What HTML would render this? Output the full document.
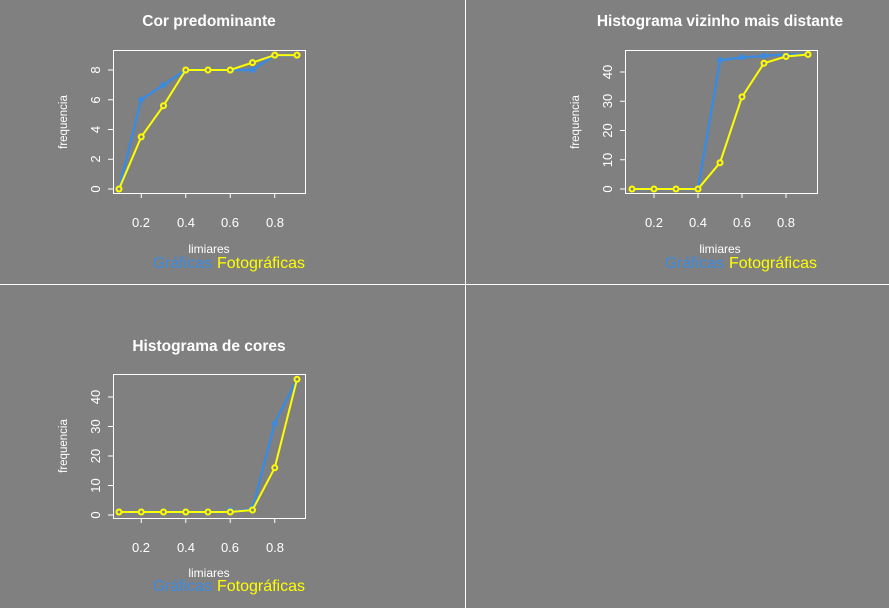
<!DOCTYPE html>
<html><head><meta charset="utf-8"><style>
html,body{margin:0;padding:0;background:#808080;}
svg{display:block;font-family:"Liberation Sans",sans-serif;}
</style></head><body>
<svg width="889" height="608" viewBox="0 0 889 608">
<rect width="889" height="608" fill="#808080"/>
<line x1="465.5" y1="0" x2="465.5" y2="608" stroke="#fff" stroke-width="1"/>
<line x1="0" y1="284.5" x2="889" y2="284.5" stroke="#fff" stroke-width="1"/>
<g fill="#fff" font-weight="bold" font-size="15.5" text-anchor="middle">
<text x="209" y="26">Cor predominante</text>
<text x="720" y="26">Histograma vizinho mais distante</text>
<text x="209" y="351">Histograma de cores</text>
</g>

<!-- Panel 1 -->
<g>
<rect x="113.5" y="50.5" width="192" height="143" fill="none" stroke="#fff"/>
<g stroke="#fff">
<line x1="141.25" y1="193" x2="141.25" y2="198"/><line x1="185.75" y1="193" x2="185.75" y2="198"/><line x1="230.25" y1="193" x2="230.25" y2="198"/><line x1="274.75" y1="193" x2="274.75" y2="198"/>
<line x1="108" y1="189" x2="113" y2="189"/><line x1="108" y1="159.25" x2="113" y2="159.25"/><line x1="108" y1="129.5" x2="113" y2="129.5"/><line x1="108" y1="99.75" x2="113" y2="99.75"/><line x1="108" y1="70" x2="113" y2="70"/>
</g>
<g fill="#fff" font-size="13" text-anchor="middle">
<text x="141" y="227">0.2</text><text x="186" y="227">0.4</text><text x="230" y="227">0.6</text><text x="275" y="227">0.8</text>
<text transform="translate(100,189) rotate(-90)">0</text><text transform="translate(100,159) rotate(-90)">2</text><text transform="translate(100,129.5) rotate(-90)">4</text><text transform="translate(100,100) rotate(-90)">6</text><text transform="translate(100,70) rotate(-90)">8</text>
<text font-size="11.5" transform="translate(67,122) rotate(-90)">frequencia</text>
<text font-size="12" x="209" y="253">limiares</text>
</g>
<text x="153" y="268" font-size="16" fill="#3a8be0" textLength="59">Gráficas</text><text x="217" y="268" font-size="16" fill="#ffff00" textLength="88">Fotográficas</text>
<polyline fill="none" stroke="#3a8be0" stroke-width="2.5" points="119,189 141.25,99.75 163.5,84.9 185.75,70 208,70 230.25,70 252.5,70 274.75,55.1 297,55.1"/>
<g fill="#3a8be0"><circle cx="141.25" cy="99.75" r="3"/><circle cx="163.5" cy="84.9" r="3"/><circle cx="252.5" cy="70" r="3"/></g>
<polyline fill="none" stroke="#ffff00" stroke-width="2" points="119,189 141.25,136.9 163.5,105.7 185.75,70 208,70 230.25,70 252.5,62.6 274.75,55.1 297,55.1"/>
<g fill="#808080" stroke="#ffff00" stroke-width="2"><circle cx="119" cy="189" r="2.5"/><circle cx="141.25" cy="136.9" r="2.5"/><circle cx="163.5" cy="105.7" r="2.5"/><circle cx="185.75" cy="70" r="2.5"/><circle cx="208" cy="70" r="2.5"/><circle cx="230.25" cy="70" r="2.5"/><circle cx="252.5" cy="62.6" r="2.5"/><circle cx="274.75" cy="55.1" r="2.5"/><circle cx="297" cy="55.1" r="2.5"/></g>
</g>

<!-- Panel 2 -->
<g>
<rect x="625.5" y="50.5" width="192" height="143" fill="none" stroke="#fff"/>
<g stroke="#fff">
<line x1="654" y1="193" x2="654" y2="198"/><line x1="698" y1="193" x2="698" y2="198"/><line x1="742" y1="193" x2="742" y2="198"/><line x1="786" y1="193" x2="786" y2="198"/>
<line x1="620" y1="189" x2="625" y2="189"/><line x1="620" y1="159.75" x2="625" y2="159.75"/><line x1="620" y1="130.5" x2="625" y2="130.5"/><line x1="620" y1="101.25" x2="625" y2="101.25"/><line x1="620" y1="72" x2="625" y2="72"/>
</g>
<g fill="#fff" font-size="13" text-anchor="middle">
<text x="654" y="227">0.2</text><text x="698" y="227">0.4</text><text x="742" y="227">0.6</text><text x="786" y="227">0.8</text>
<text transform="translate(612,189) rotate(-90)">0</text><text transform="translate(612,160) rotate(-90)">10</text><text transform="translate(612,130.5) rotate(-90)">20</text><text transform="translate(612,101) rotate(-90)">30</text><text transform="translate(612,72) rotate(-90)">40</text>
<text font-size="11.5" transform="translate(579,122) rotate(-90)">frequencia</text>
<text font-size="12" x="720" y="253">limiares</text>
</g>
<text x="665" y="268" font-size="16" fill="#3a8be0" textLength="59">Gráficas</text><text x="729" y="268" font-size="16" fill="#ffff00" textLength="88">Fotográficas</text>
<polyline fill="none" stroke="#3a8be0" stroke-width="2.5" points="632,189 654,189 676,189 698,189 720,60.3 742,57.4 764,55.9 786,54.45 808,54.45"/>
<g fill="#3a8be0"><circle cx="720" cy="60.3" r="3"/><circle cx="742" cy="57.4" r="3"/><circle cx="764" cy="55.9" r="3"/></g>
<polyline fill="none" stroke="#ffff00" stroke-width="2" points="632,189 654,189 676,189 698,189 720,162.7 742,96.9 764,63.2 786,56.5 808,54.45"/>
<g fill="#808080" stroke="#ffff00" stroke-width="2"><circle cx="632" cy="189" r="2.5"/><circle cx="654" cy="189" r="2.5"/><circle cx="676" cy="189" r="2.5"/><circle cx="698" cy="189" r="2.5"/><circle cx="720" cy="162.7" r="2.5"/><circle cx="742" cy="96.9" r="2.5"/><circle cx="764" cy="63.2" r="2.5"/><circle cx="786" cy="56.5" r="2.5"/><circle cx="808" cy="54.45" r="2.5"/></g>
</g>

<!-- Panel 3 -->
<g>
<rect x="113.5" y="374.5" width="192" height="144" fill="none" stroke="#fff"/>
<g stroke="#fff">
<line x1="141.25" y1="518" x2="141.25" y2="523"/><line x1="185.75" y1="518" x2="185.75" y2="523"/><line x1="230.25" y1="518" x2="230.25" y2="523"/><line x1="274.75" y1="518" x2="274.75" y2="523"/>
<line x1="108" y1="515" x2="113" y2="515"/><line x1="108" y1="485.5" x2="113" y2="485.5"/><line x1="108" y1="456" x2="113" y2="456"/><line x1="108" y1="426.5" x2="113" y2="426.5"/><line x1="108" y1="397" x2="113" y2="397"/>
</g>
<g fill="#fff" font-size="13" text-anchor="middle">
<text x="141" y="552">0.2</text><text x="186" y="552">0.4</text><text x="230" y="552">0.6</text><text x="275" y="552">0.8</text>
<text transform="translate(100,515) rotate(-90)">0</text><text transform="translate(100,485.5) rotate(-90)">10</text><text transform="translate(100,456) rotate(-90)">20</text><text transform="translate(100,426.5) rotate(-90)">30</text><text transform="translate(100,397) rotate(-90)">40</text>
<text font-size="11.5" transform="translate(67,446) rotate(-90)">frequencia</text>
<text font-size="12" x="209" y="577">limiares</text>
</g>
<text x="153" y="591" font-size="16" fill="#3a8be0" textLength="59">Gráficas</text><text x="217" y="591" font-size="16" fill="#ffff00" textLength="88">Fotográficas</text>
<polyline fill="none" stroke="#3a8be0" stroke-width="2.5" points="119,512 141.25,512 163.5,512 185.75,512 208,512 230.25,512 252.5,509.1 274.75,423.5 297,379.3"/>
<g fill="#3a8be0"><circle cx="230.25" cy="510" r="3"/><circle cx="252.5" cy="508" r="3"/><circle cx="274.75" cy="423.5" r="3"/></g>
<polyline fill="none" stroke="#ffff00" stroke-width="2" points="119,512 141.25,512 163.5,512 185.75,512 208,512 230.25,512 252.5,510 274.75,467.8 297,379.3"/>
<g fill="#808080" stroke="#ffff00" stroke-width="2"><circle cx="119" cy="512" r="2.5"/><circle cx="141.25" cy="512" r="2.5"/><circle cx="163.5" cy="512" r="2.5"/><circle cx="185.75" cy="512" r="2.5"/><circle cx="208" cy="512" r="2.5"/><circle cx="230.25" cy="512" r="2.5"/><circle cx="252.5" cy="510" r="2.5"/><circle cx="274.75" cy="467.8" r="2.5"/><circle cx="297" cy="379.3" r="2.5"/></g>
</g>
</svg>
</body></html>
